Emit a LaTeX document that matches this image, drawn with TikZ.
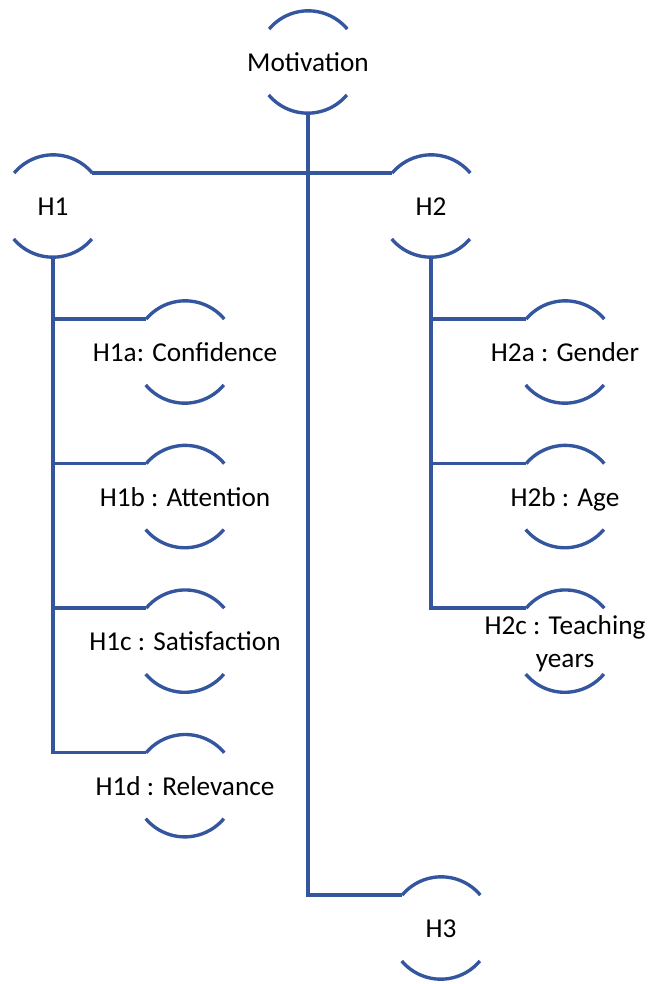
\documentclass[tikz,border=0pt]{standalone}
\usepackage{fontspec}
\setmainfont{Carlito}
\usepackage{tikz}
\usetikzlibrary{positioning}
\definecolor{linkblue}{RGB}{52,86,158}

\newcommand{\hlabel}[1]{\makebox[0pt]{\raisebox{-2.2pt}[\height][\depth]{\begin{tabular}{@{}c@{}}#1\end{tabular}}}}

\begin{document}
\begin{tikzpicture}[
		node distance=1.05cm and 2cm,
		hyp/.style={circle, minimum size=2.55cm, inner sep=0pt,
			font=\fontsize{19.4}{23.5}\selectfont},
		link/.style={draw=linkblue, line width=2.4pt},
		halfarc/.style={draw=linkblue, line width=2.4pt}
		]
		\useasboundingbox (0,0) rectangle (16.2,-24.6);

		\node[hyp] (mot) at (7.7,-1.55) {\hlabel{Motivation}};
		\node[hyp] (hone) at (1.325,-5.15) {\hlabel{H1}};
		\node[hyp] (htwo) at (10.775,-5.15) {\hlabel{H2}};
		\node[hyp] (hthree) at (11.025,-23.2) {\hlabel{H3}};

		\node[hyp] (hia) at (4.625,-8.8) {\hlabel{H1a: Confidence}};
		\node[hyp, below=of hia] (hib) {\hlabel{H1b : Attention}};
		\node[hyp, below=of hib] (hic) {\hlabel{H1c : Satisfaction}};
		\node[hyp, below=of hic] (hid) {\hlabel{H1d : Relevance}};

		\node[hyp] (hiia) at (14.125,-8.8) {\hlabel{H2a : Gender}};
		\node[hyp, below=of hiia] (hiib) {\hlabel{H2b : Age}};
		\node[hyp, below=of hiib] (hiic) {\hlabel{H2c : Teaching\\years}};

		% open circles
		\foreach \n in {mot,hone,htwo,hthree,hia,hib,hic,hid,hiia,hiib,hiic} {
			\draw[halfarc] (\n.40) arc[start angle=40, end angle=140, radius=1.275cm];
			\draw[halfarc] (\n.220) arc[start angle=220, end angle=320, radius=1.275cm];
		}

		\draw[link] (hone.40) -- (htwo.140);
		\draw[link] (mot.south) |- (hthree.140);
		\foreach \c in {hia,hib,hic,hid}
			\draw[link] (hone.south) |- (\c.140);
		\foreach \c in {hiia,hiib,hiic}
			\draw[link] (htwo.south) |- (\c.140);
	\end{tikzpicture}
\end{document}
